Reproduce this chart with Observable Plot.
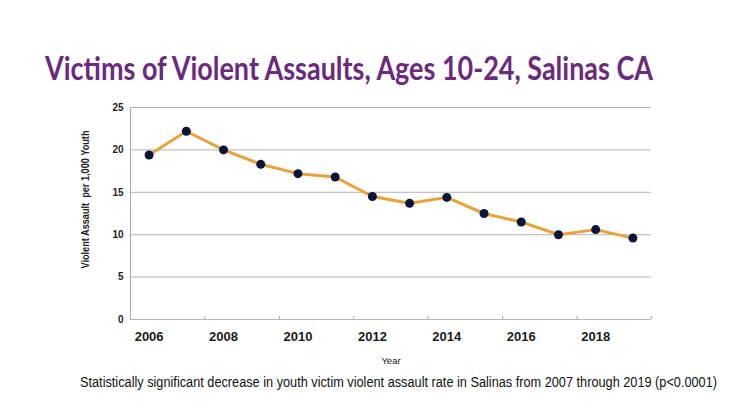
<!DOCTYPE html>
<html>
<head>
<meta charset="utf-8">
<script src="https://cdn.jsdelivr.net/npm/d3@7"></script>
<script src="https://cdn.jsdelivr.net/npm/@observablehq/plot@0.6"></script>
<style>
  html, body { margin: 0; padding: 0; background: #fff; }
  #wrap { position: relative; width: 750px; height: 414px; overflow: hidden; background: #fff; }
  #title { position: absolute; left: 45px; top: 48px; font-family: Lato, "Open Sans", sans-serif; font-weight: bold;
           font-size: 32px; line-height: 40px; color: #6B2A7C; white-space: nowrap; transform-origin: left center; }
  #chart { position: absolute; left: 0; top: 95px; }
  #caption { position: absolute; left: 80px; top: 374px; font-family: "Liberation Sans", Arial, sans-serif;
             font-size: 14px; line-height: 16px; color: #111; white-space: nowrap; transform-origin: left center; }
</style>
</head>
<body>
<div id="wrap">
  <div id="title">Victims of Violent Assaults, Ages 10-24, Salinas CA</div>
  <div id="chart"></div>
  <div id="caption">Statistically significant decrease in youth victim violent assault rate in Salinas from 2007 through 2019 (p&lt;0.0001)</div>
</div>
<script>
const years = [2006, 2007, 2008, 2009, 2010, 2011, 2012, 2013, 2014, 2015, 2016, 2017, 2018, 2019];
const rates = [19.4, 22.2, 20.0, 18.3, 17.2, 16.8, 14.5, 13.7, 14.4, 12.5, 11.5, 10.0, 10.6, 9.6];
const yTicks = [0, 5, 10, 15, 20, 25];
const xTickLabels = [2006, 2008, 2010, 2012, 2014, 2016, 2018];
const xTickMarks = [2007.5, 2009.5, 2011.5, 2013.5, 2015.5, 2017.5, 2019.5];
const yLabel = "Violent Assault  per 1,000 Youth";
const xLabel = "Year";

const data = years.map((year, i) => ({year, rate: rates[i]}));

const chart = Plot.plot({
  width: 750,
  height: 275,
  marginLeft: 130,
  marginRight: 99,
  marginTop: 12,
  marginBottom: 51,
  style: {background: "transparent", fontFamily: "'Liberation Sans', Arial, sans-serif", color: "#222"},
  x: {type: "linear", domain: [2005.5, 2019.5]},
  y: {domain: [0, 25]},
  marks: [
    Plot.ruleY(yTicks, {stroke: "#b4b4b4", strokeWidth: 1}),
    Plot.ruleX([2005.5], {stroke: "#a8a8a8", strokeWidth: 1}),
    Plot.ruleX(xTickMarks, {y1: 0, y2: 0.35, stroke: "#a8a8a8"}),
    Plot.axisX({ticks: xTickLabels, tickFormat: d => String(d), tickSize: 0, tickPadding: 12,
                fontWeight: "bold", fontSize: 13, label: null, fill: "#1a1a1a"}),
    Plot.axisY({ticks: yTicks, tickSize: 0, tickPadding: 7, fontWeight: "bold", fontSize: 10, label: null, fill: "#222"}),
    Plot.text([xLabel], {frameAnchor: "bottom", dy: 44, fontSize: 9.5, fill: "#222"}),
    Plot.text([yLabel], {frameAnchor: "left", textAnchor: "middle", rotate: -90, dx: -45, dy: -14,
                         fontSize: 10.5, fontWeight: "bold", fill: "#222"}),
    Plot.line(data, {x: "year", y: "rate", stroke: "#E9A23B", strokeWidth: 3}),
    Plot.dot(data, {x: "year", y: "rate", r: 4.5, fill: "#0B1538", stroke: "none"})
  ]
});
document.getElementById("chart").append(chart);

// condense the y-axis title to the reference's length
chart.querySelectorAll("text").forEach(t => {
  if (t.textContent === yLabel) {
    t.setAttribute("textLength", 138);
    t.setAttribute("lengthAdjust", "spacingAndGlyphs");
  }
});

function fit(id, target) {
  const el = document.getElementById(id);
  const w = el.getBoundingClientRect().width;
  el.style.transform = `scaleX(${target / w})`;
}
fit("title", 608);
fit("caption", 637);
</script>
</body>
</html>
